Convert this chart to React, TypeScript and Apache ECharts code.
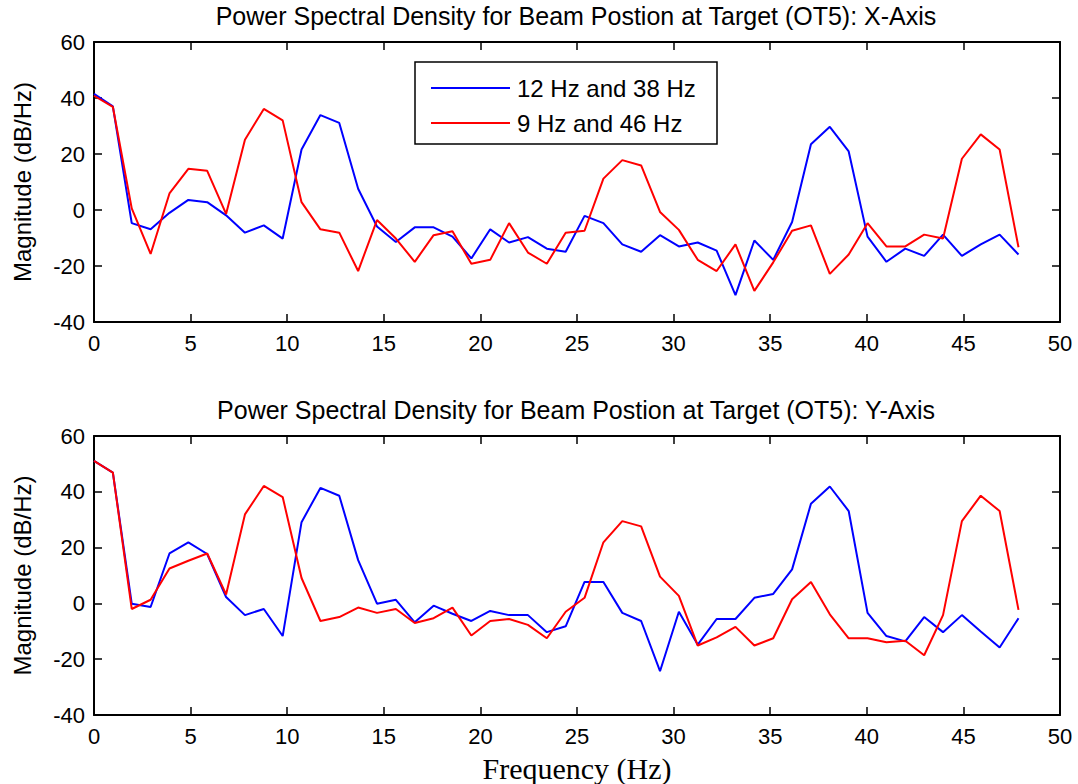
import React, { useEffect, useRef } from "react";
import * as echarts from "echarts";

// Frequency bins (Hz)
const FREQ = [
  0, 0.977, 1.953, 2.93, 3.906, 4.883, 5.859, 6.836, 7.813, 8.789,
  9.766, 10.742, 11.719, 12.695, 13.672, 14.648, 15.625, 16.602, 17.578, 18.555,
  19.531, 20.508, 21.484, 22.461, 23.438, 24.414, 25.391, 26.367, 27.344, 28.32,
  29.297, 30.273, 31.25, 32.227, 33.203, 34.18, 35.156, 36.133, 37.109, 38.086,
  39.063, 40.039, 41.016, 41.992, 42.969, 43.945, 44.922, 45.898, 46.875, 47.852,
];

const SERIES_NAMES = ["12 Hz and 38 Hz", "9 Hz and 46 Hz"];
const TITLES = [
  "Power Spectral Density for Beam Postion at Target (OT5): X-Axis",
  "Power Spectral Density for Beam Postion at Target (OT5): Y-Axis",
];
const X_TICKS = [0, 5, 10, 15, 20, 25, 30, 35, 40, 45, 50];
const Y_TICKS = [-40, -20, 0, 20, 40, 60];

// X-axis PSD
const X_BLUE = [
  41.5, 37.0, -4.7, -6.9, -1.0, 3.6, 2.8, -1.9, -8.1, -5.5,
  -10.2, 21.6, 33.9, 31.1, 7.6, -5.9, -11.4, -6.2, -6.2, -9.5,
  -17.3, -6.9, -11.6, -9.7, -13.8, -14.9, -2.1, -4.7, -12.3, -14.9,
  -9.0, -13.0, -11.6, -14.5, -30.4, -10.9, -17.8, -4.3, 23.5, 29.7,
  20.9, -9.5, -18.5, -13.8, -16.4, -8.8, -16.4, -12.3, -8.8, -15.9,
];
const X_RED = [
  40.8, 36.8, 0.6, -15.7, 5.9, 14.7, 14.0, -1.4, 25.1, 36.1,
  32.0, 2.8, -6.9, -8.1, -21.8, -3.6, -10.2, -18.5, -9.0, -7.6,
  -19.2, -17.8, -4.7, -15.2, -19.2, -8.1, -7.4, 11.2, 17.8, 15.9,
  -0.7, -7.1, -17.8, -21.8, -12.3, -28.9, -18.7, -7.4, -5.5, -22.8,
  -15.9, -4.7, -13.0, -13.0, -8.8, -10.2, 18.3, 27.0, 21.6, -13.3,
];

// Y-axis PSD
const Y_BLUE = [
  51.1, 46.9, -0.1, -1.3, 17.9, 21.9, 17.7, 2.3, -4.2, -2.0,
  -11.7, 29.1, 41.4, 38.6, 15.5, -0.1, 1.3, -6.8, -0.8, -3.7,
  -6.3, -2.7, -4.2, -4.2, -10.3, -8.2, 7.7, 7.7, -3.4, -6.3,
  -24.3, -3.0, -14.8, -5.6, -5.6, 2.0, 3.4, 12.2, 35.7, 41.9,
  33.1, -3.4, -11.7, -13.6, -4.9, -10.3, -4.2, -10.1, -15.8, -5.3,
];
const Y_RED = [
  51.1, 46.9, -2.0, 1.3, 12.5, 15.3, 17.9, 3.2, 31.9, 42.1,
  38.1, 9.1, -6.3, -4.9, -1.5, -3.4, -2.0, -7.0, -5.3, -1.5,
  -11.5, -6.3, -5.6, -7.7, -12.5, -3.0, 2.0, 21.9, 29.5, 27.6,
  9.6, 2.7, -15.1, -12.2, -8.4, -15.1, -12.5, 1.5, 7.7, -3.9,
  -12.5, -12.5, -13.9, -13.4, -18.6, -4.2, 29.5, 38.6, 33.1, -2.3,
];

const SANS = "'Liberation Sans', Arial, Helvetica, sans-serif";
const SERIF = "'Liberation Serif', 'Times New Roman', serif";

const X_MIN = X_TICKS[0];
const X_MAX = X_TICKS[X_TICKS.length - 1];
const X_STEP = X_TICKS[1] - X_TICKS[0];
const Y_MIN = Y_TICKS[0];
const Y_MAX = Y_TICKS[Y_TICKS.length - 1];
const Y_STEP = Y_TICKS[1] - Y_TICKS[0];

const pairs = (vals: number[]) => FREQ.map((f, i) => [f, vals[i]]);

function xAxis(gridIndex: number, position: "bottom" | "top", withLabels: boolean, name: string) {
  return {
    type: "value",
    gridIndex,
    position,
    min: X_MIN,
    max: X_MAX,
    interval: X_STEP,
    axisLine: { show: true, onZero: false, lineStyle: { color: "#000", width: 2 } },
    axisTick: { show: true, inside: true, length: 8, lineStyle: { color: "#000", width: 1.5 } },
    axisLabel: { show: withLabels, color: "#000", fontFamily: SANS, fontSize: 22, margin: 10 },
    splitLine: { show: false },
    name,
    nameLocation: "middle",
    nameGap: 38,
    nameTextStyle: { fontFamily: SERIF, fontSize: 30, color: "#000" },
  };
}

function yAxis(gridIndex: number, position: "left" | "right", withLabels: boolean) {
  return {
    type: "value",
    gridIndex,
    position,
    min: Y_MIN,
    max: Y_MAX,
    interval: Y_STEP,
    axisLine: { show: true, onZero: false, lineStyle: { color: "#000", width: 2 } },
    axisTick: { show: true, inside: true, length: 8, lineStyle: { color: "#000", width: 1.5 } },
    axisLabel: { show: withLabels, color: "#000", fontFamily: SANS, fontSize: 22, margin: 9 },
    splitLine: { show: false },
    name: withLabels ? "Magnitude (dB/Hz)" : "",
    nameLocation: "middle",
    nameRotate: 90,
    nameGap: 60,
    nameTextStyle: { fontFamily: SANS, fontSize: 24, color: "#000" },
  };
}

function line(name: string, color: string, vals: number[], gi: number) {
  return {
    type: "line",
    name,
    xAxisIndex: gi,
    yAxisIndex: gi,
    data: pairs(vals),
    symbol: "none",
    showSymbol: false,
    lineStyle: { color, width: 2 },
    itemStyle: { color },
    z: 2,
  };
}

const option = {
  animation: false,
  backgroundColor: "#fff",
  title: [
    {
      text: TITLES[0],
      left: 576,
      top: 3,
      textAlign: "center",
      padding: 0,
      textStyle: { fontFamily: SANS, fontSize: 25, fontWeight: "normal", color: "#000" },
    },
    {
      text: TITLES[1],
      left: 576,
      top: 397,
      textAlign: "center",
      padding: 0,
      textStyle: { fontFamily: SANS, fontSize: 25, fontWeight: "normal", color: "#000" },
    },
  ],
  grid: [
    { left: 94, top: 42, width: 966, height: 280, containLabel: false },
    { left: 94, top: 436, width: 966, height: 280, containLabel: false },
  ],
  xAxis: [
    xAxis(0, "bottom", true, ""),
    xAxis(1, "bottom", true, "Frequency (Hz)"),
    xAxis(0, "top", false, ""),
    xAxis(1, "top", false, ""),
  ],
  yAxis: [
    yAxis(0, "left", true),
    yAxis(1, "left", true),
    yAxis(0, "right", false),
    yAxis(1, "right", false),
  ],
  legend: {
    data: SERIES_NAMES,
    orient: "vertical",
    left: 431,
    top: 76,
    padding: 0,
    itemGap: 11,
    itemWidth: 79,
    itemHeight: 2,
    icon: "rect",
    z: 5,
    textStyle: { fontFamily: SANS, fontSize: 24, color: "#000", padding: [0, 0, 0, 2] },
  },
  graphic: [
    {
      type: "rect",
      z: 4,
      shape: { x: 415, y: 62, width: 302, height: 82 },
      style: { fill: "#fff", stroke: "#000", lineWidth: 1.5 },
    },
  ],
  series: [
    line(SERIES_NAMES[0], "#0000ff", X_BLUE, 0),
    line(SERIES_NAMES[1], "#ff0000", X_RED, 0),
    line(SERIES_NAMES[0], "#0000ff", Y_BLUE, 1),
    line(SERIES_NAMES[1], "#ff0000", Y_RED, 1),
  ],
};

export default function App() {
  const ref = useRef<HTMLDivElement>(null);
  useEffect(() => {
    const chart = echarts.init(ref.current!, null, { renderer: "svg" });
    chart.setOption(option as any);
    return () => chart.dispose();
  }, []);
  return (
    <div
      ref={ref}
      style={{ position: "absolute", left: 0, top: 0, width: 1078, height: 784, background: "#fff" }}
    />
  );
}
